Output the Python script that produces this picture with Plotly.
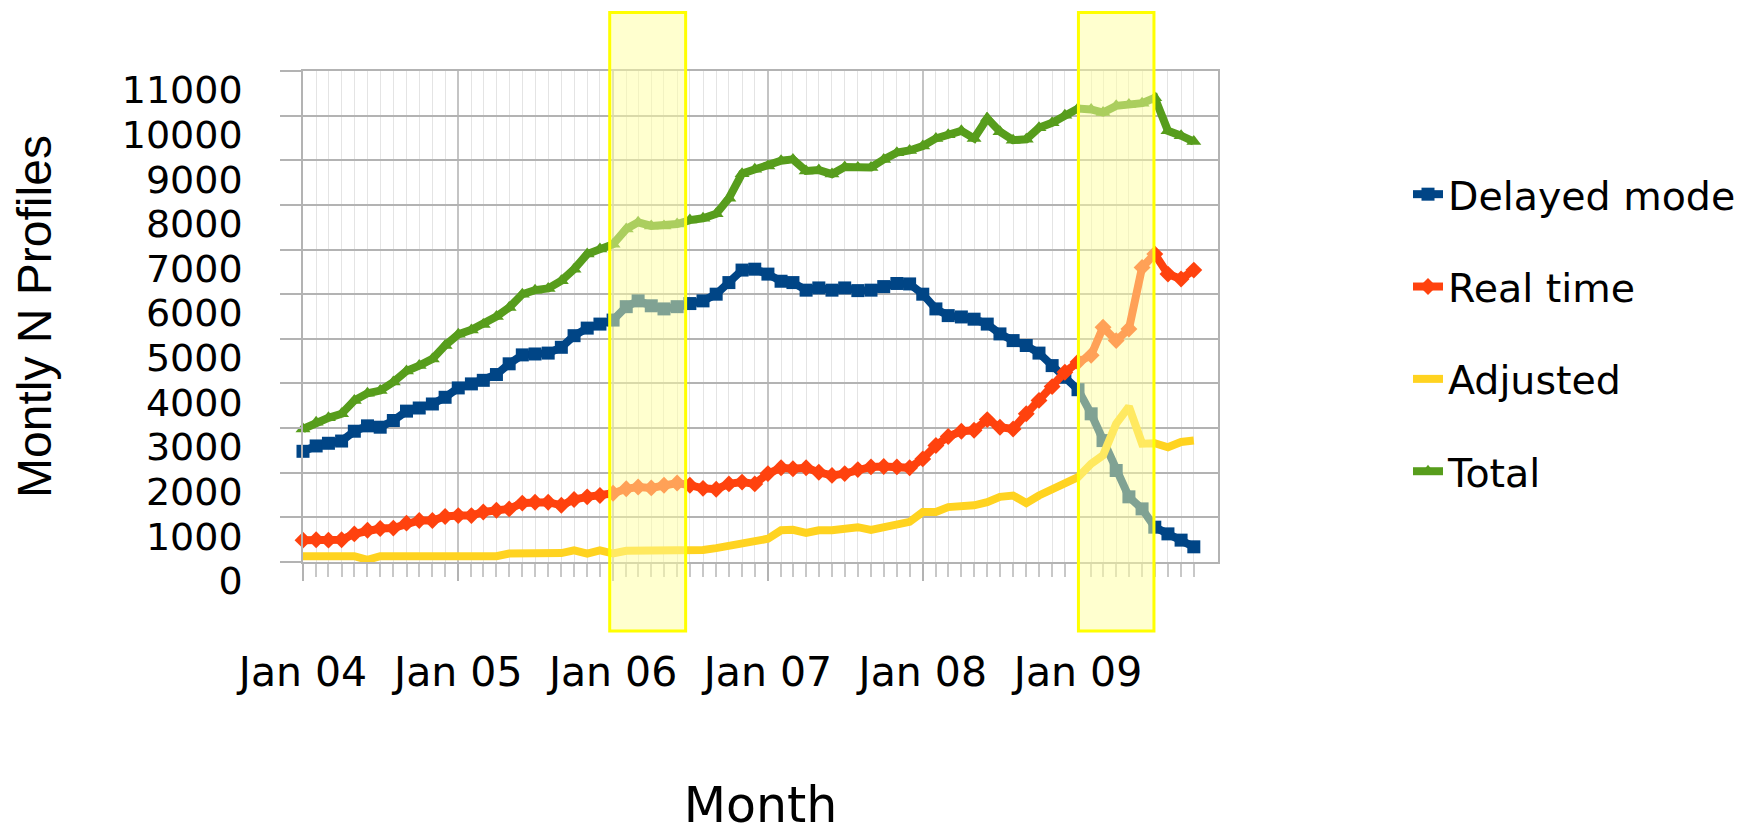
import plotly.graph_objects as go

months = [f"{y}-{m:02d}-01" for y in range(2004, 2010) for m in range(1, 13)][:70]

delayed_mode = [2480, 2600, 2660, 2710, 2930, 3050, 3020, 3170, 3380, 3450,
                3540, 3690, 3900, 3990, 4070, 4200, 4440, 4640, 4660, 4680,
                4810, 5070, 5240, 5330, 5420, 5720, 5850, 5740, 5670, 5720,
                5790, 5850, 6000, 6260, 6540, 6560, 6450, 6290, 6260, 6090,
                6140, 6090, 6140, 6080, 6090, 6170, 6240, 6230, 6000, 5670,
                5520, 5490, 5440, 5330, 5110, 4960, 4850, 4680, 4400, 4140,
                3860, 3320, 2720, 2050, 1460, 1190, 780, 630, 490, 340]

real_time = [490, 500, 490, 500, 630, 710, 750, 760, 870, 930,
             930, 1020, 1040, 1040, 1120, 1160, 1190, 1320, 1340, 1340,
             1270, 1400, 1460, 1490, 1540, 1640, 1680, 1660, 1720, 1770,
             1720, 1650, 1630, 1750, 1790, 1750, 1980, 2110, 2090, 2110,
             2010, 1940, 1980, 2070, 2130, 2140, 2130, 2110, 2310, 2610,
             2810, 2930, 2950, 3190, 3020, 2980, 3320, 3620, 3930, 4250,
             4480, 4630, 5260, 4960, 5220, 6600, 6900, 6450, 6340, 6540]

adjusted = [130, 130, 130, 130, 130, 50, 130, 130, 130, 130,
            130, 130, 130, 130, 130, 130, 190, 190, 190, 200,
            200, 260, 190, 260, 190, 250, 250, 250, 250, 250,
            250, 270, 310, 370, 430, 490, 520, 710, 720, 650,
            710, 710, 760, 780, 720, 780, 840, 900, 1120, 1120,
            1230, 1250, 1270, 1340, 1460, 1490, 1320, 1490, 1640, 1750,
            1900, 2200, 2390, 3100, 3480, 2650, 2660, 2570, 2690, 2720]

total = [2980, 3130, 3230, 3320, 3620, 3780, 3840, 4030, 4280, 4400,
         4550, 4850, 5100, 5200, 5320, 5500, 5700, 6000, 6090, 6130,
         6300, 6560, 6900, 7010, 7120, 7460, 7610, 7530, 7530, 7570,
         7660, 7700, 7800, 8150, 8700, 8800, 8870, 8990, 9020, 8760,
         8780, 8690, 8850, 8840, 8840, 9020, 9170, 9220, 9320, 9490,
         9570, 9660, 9490, 9940, 9640, 9450, 9470, 9730, 9840, 10010,
         10160, 10140, 10070, 10220, 10250, 10280, 10400, 9660, 9550, 9420]

tick_dates = ["2004-01-01", "2005-01-01", "2006-01-01", "2007-01-01", "2008-01-01", "2009-01-01"]
tick_labels = ["Jan 04", "Jan 05", "Jan 06", "Jan 07", "Jan 08", "Jan 09"]

highlight_spans = [("2005-12-24", "2006-06-21"), ("2009-01-02", "2009-06-29")]

series = [
    ("Delayed mode", delayed_mode, "#004586", "square"),
    ("Real time", real_time, "#ff420e", "diamond"),
    ("Adjusted", adjusted, "#ffd320", None),
    ("Total", total, "#579d1c", "triangle-up"),
]

fig = go.Figure()
for name, vals, color, sym in series:
    mode = "lines+markers" if sym else "lines"
    fig.add_trace(go.Scatter(
        x=months, y=vals, name=name, mode=mode, legendgroup=name,
        line=dict(color=color, width=8),
        marker=dict(symbol=sym or "circle", size=13, color=color),
        cliponaxis=False,
    ))

for x0, x1 in highlight_spans:
    fig.add_shape(type="rect", xref="x", yref="paper", x0=x0, x1=x1, y0=-0.1405, y1=1.119,
                  fillcolor="rgba(255,255,160,0.5)", line=dict(color="#ffff00", width=3),
                  layer="above")

grid = "#b3b3b3"
# the page body adds an 8 px offset, so the figure is 8 px smaller and its margins 8 px less
fig.update_layout(
    width=1743, height=826,
    margin=dict(l=295, r=533, t=63, b=272, autoexpand=False),
    paper_bgcolor="white", plot_bgcolor="white",
    showlegend=True,
    legend=dict(x=(1408 - 303) / 915, y=(562 - 162) / 491, xanchor="left", yanchor="top",
                font=dict(family="DejaVu Sans", size=39.5, color="black"),
                traceorder="grouped", tracegroupgap=38, itemwidth=30,
                bgcolor="rgba(0,0,0,0)"),
    xaxis=dict(
        type="date", range=["2004-01-01", "2009-11-27"],
        tickmode="array", tickvals=tick_dates, ticktext=tick_labels,
        ticks="outside", ticklen=17, tickcolor=grid, tickwidth=1.5,
        ticklabelstandoff=56,
        tickfont=dict(family="DejaVu Sans", size=41, color="black"),
        showgrid=True, gridcolor="#c4c4c4", gridwidth=1.5,
        minor=dict(tickmode="array", tickvals=months, ticks="outside", ticklen=13,
                   tickcolor="#c8c8c8", showgrid=True, gridcolor="#e4e4e4", gridwidth=1),
        showline=True, linecolor=grid, linewidth=1.5, mirror=True,
        zeroline=False,
        title=dict(text="Month", font=dict(family="DejaVu Sans", size=49, color="black"), standoff=101),
    ),
    yaxis=dict(
        range=[0, 11000], dtick=1000, tick0=0, tickformat="d",
        ticks="outside", ticklen=21, tickcolor=grid, tickwidth=1.5,
        ticklabelstandoff=30, ticklabelshift=19,
        tickfont=dict(family="DejaVu Sans", size=38, color="black"),
        showgrid=True, gridcolor=grid, gridwidth=1.5,
        showline=True, linecolor=grid, linewidth=1.5, mirror=True,
        zeroline=False,
        title=dict(text="Montly N Profiles", font=dict(family="Liberation Sans", size=48, color="black"), standoff=120),
    ),
)

fig.write_html("out.html")
